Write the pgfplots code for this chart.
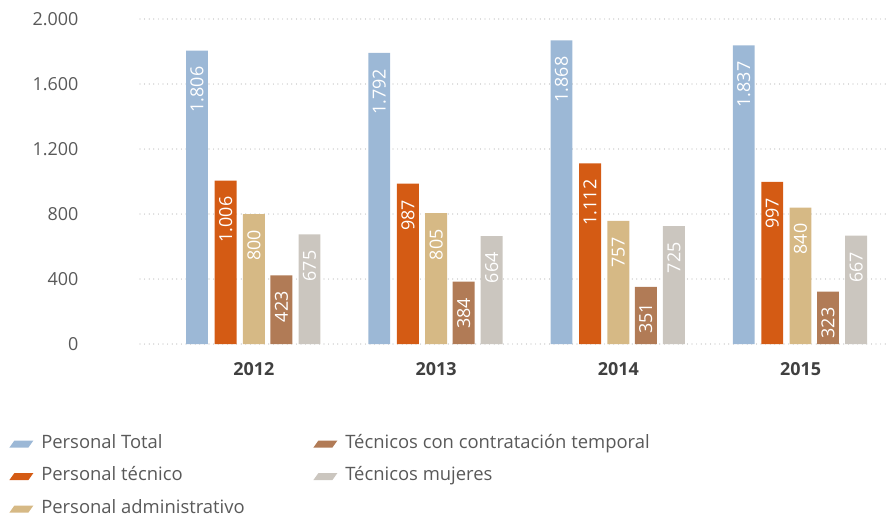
\documentclass[border=0pt]{standalone}
\usepackage{pgfplots}
\pgfplotsset{compat=1.18}
\usepackage{fontspec}
\setmainfont{Open Sans}
\definecolor{cTotal}{HTML}{9CB8D6}
\definecolor{cTec}{HTML}{D45B14}
\definecolor{cAdm}{HTML}{D6B985}
\definecolor{cTemp}{HTML}{B17B56}
\definecolor{cMuj}{HTML}{CBC6BF}
\definecolor{txt}{HTML}{595959}
\definecolor{yr}{HTML}{404040}
\pgfplotsset{mylegend/.style={legend image code/.code={\fill[##1] (0bp,-4.5bp) -- (19bp,-4.5bp) -- (24bp,2.5bp) -- (5bp,2.5bp) -- cycle;}}}
\pgfkeys{/pgf/number format/.cd, 1000 sep={.}, assume math mode=true}
\begin{document}
\begin{tikzpicture}
\path[use as bounding box] (-140bp,-173bp) rectangle (754bp,344bp);
\begin{axis}[
  at={(0,0)}, anchor=south west,
  scale only axis, width=748bp, height=325bp,
  xmin=-0.625, xmax=3.48, ymin=0, ymax=2000,
  ytick={0,400,800,1200,1600,2000},
  scaled y ticks=false,
  xtick={0,1,2,3}, xticklabels={2012,2013,2014,2015},
  axis line style={draw=none},
  major tick length=0pt,
  ymajorgrids,
  grid style={line width=1.2bp, line cap=round, dash pattern=on 0bp off 4.6bp, color=gray!55},
  /pgf/number format/1000 sep={.},
  /pgf/number format/assume math mode=true,
  yticklabel style={font=\fontsize{18}{20}\selectfont, color=txt, xshift=-58bp},
  xticklabel style={font=\bfseries\fontsize{18}{20}\selectfont, color=yr, yshift=-15bp},
  ybar, bar width=0.12,
  every axis plot post/.append style={mylegend},
  nodes near coords,
  nodes near coords style={rotate=90, anchor=east, inner xsep=16bp, inner ysep=0pt, text=white, font=\fontsize{18}{20}\selectfont},
  legend columns=3, transpose legend, legend cell align=left,
  legend style={at={(-0.175,-0.28)}, anchor=north west, draw=none, fill=none, inner sep=0pt,
    font=\fontsize{18.5}{20}\selectfont, text=txt, column sep=8bp, row sep=16.5bp,
    nodes={inner sep=0pt, text height=13bp, text depth=3bp}},
]
\addplot[fill=cTotal, draw=none, bar shift=-0.312] coordinates {(0,1806) (1,1792) (2,1868) (3,1837)};
\addlegendentry{\makebox[264bp][l]{Personal Total}}
\addplot[fill=cTec, draw=none, bar shift=-0.155] coordinates {(0,1006) (1,987) (2,1112) (3,997)};
\addlegendentry{\makebox[264bp][l]{Personal técnico}}
\addplot[fill=cAdm, draw=none, bar shift=0] coordinates {(0,800) (1,805) (2,757) (3,840)};
\addlegendentry{\makebox[264bp][l]{Personal administrativo}}
\addplot[fill=cTemp, draw=none, bar shift=0.151] coordinates {(0,423) (1,384) (2,351) (3,323)};
\addlegendentry{Técnicos con contratación temporal}
\addplot[fill=cMuj, draw=none, bar shift=0.305] coordinates {(0,675) (1,664) (2,725) (3,667)};
\addlegendentry{Técnicos mujeres}
\end{axis}
\end{tikzpicture}
\end{document}
